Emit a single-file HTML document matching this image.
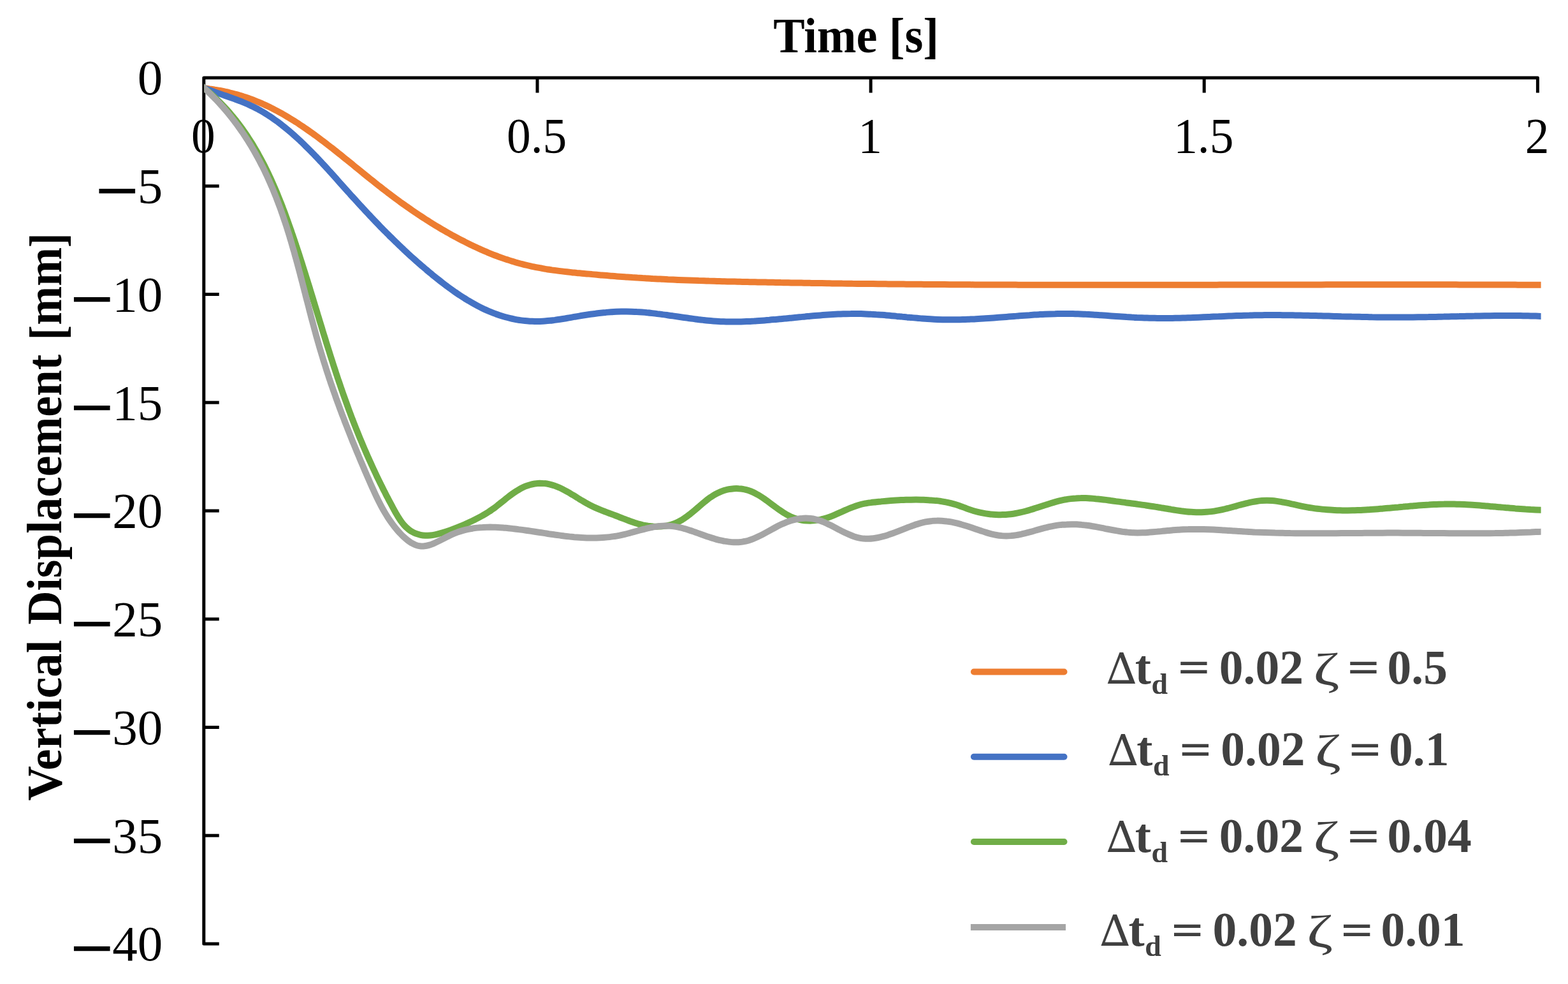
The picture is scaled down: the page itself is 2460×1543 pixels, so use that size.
<!DOCTYPE html>
<html lang="en"><head><meta charset="utf-8"><title>Vertical Displacement vs Time</title>
<style>html,body{margin:0;padding:0;background:#fff}body{width:2460px;height:1543px;overflow:hidden}svg{display:block}text{font-family:'Liberation Serif', 'DejaVu Serif', serif}</style>
</head><body>
<svg xmlns="http://www.w3.org/2000/svg" width="2460" height="1543" viewBox="0 0 2460 1543">
<rect width="2460" height="1543" fill="#fff"/>
<g fill="none" stroke="#000" stroke-width="5.0" stroke-linejoin="round" stroke-linecap="butt">
<path d="M343.7 1480.0 H319.8 V122.0 H2412.4 V145.5"/>
<path d="M843.0 122.0 v23.5"/>
<path d="M1366.1 122.0 v23.5"/>
<path d="M1889.2 122.0 v23.5"/>
<path d="M319.8 291.8 h23.9"/>
<path d="M319.8 461.5 h23.9"/>
<path d="M319.8 631.2 h23.9"/>
<path d="M319.8 801.0 h23.9"/>
<path d="M319.8 970.8 h23.9"/>
<path d="M319.8 1140.5 h23.9"/>
<path d="M319.8 1310.2 h23.9"/>
</g>
<g font-size="79.0" fill="#000">
<text x="318.9" y="239.2" text-anchor="middle" textLength="37.7" lengthAdjust="spacingAndGlyphs">0</text>
<text x="842.1" y="239.2" text-anchor="middle" textLength="94.3" lengthAdjust="spacingAndGlyphs">0.5</text>
<text x="1365.2" y="239.2" text-anchor="middle" textLength="37.7" lengthAdjust="spacingAndGlyphs">1</text>
<text x="1888.3" y="239.2" text-anchor="middle" textLength="94.3" lengthAdjust="spacingAndGlyphs">1.5</text>
<text x="2411.5" y="239.2" text-anchor="middle" textLength="37.7" lengthAdjust="spacingAndGlyphs">2</text>
<text x="215.7" y="148.3">0</text>
<text><tspan x="146.0" y="328.1" font-family="'DejaVu Serif', 'DejaVu Sans', serif" font-size="90.5">−</tspan><tspan x="215.7" y="318.1">5</tspan></text>
<text><tspan x="106.5" y="497.9" font-family="'DejaVu Serif', 'DejaVu Sans', serif" font-size="90.5">−</tspan><tspan x="176.2" y="487.8">10</tspan></text>
<text><tspan x="106.5" y="667.6" font-family="'DejaVu Serif', 'DejaVu Sans', serif" font-size="90.5">−</tspan><tspan x="176.2" y="657.5">15</tspan></text>
<text><tspan x="106.5" y="837.4" font-family="'DejaVu Serif', 'DejaVu Sans', serif" font-size="90.5">−</tspan><tspan x="176.2" y="827.3">20</tspan></text>
<text><tspan x="106.5" y="1007.1" font-family="'DejaVu Serif', 'DejaVu Sans', serif" font-size="90.5">−</tspan><tspan x="176.2" y="997.0">25</tspan></text>
<text><tspan x="106.5" y="1176.9" font-family="'DejaVu Serif', 'DejaVu Sans', serif" font-size="90.5">−</tspan><tspan x="176.2" y="1166.8">30</tspan></text>
<text><tspan x="106.5" y="1346.7" font-family="'DejaVu Serif', 'DejaVu Sans', serif" font-size="90.5">−</tspan><tspan x="176.2" y="1336.5">35</tspan></text>
<text><tspan x="106.5" y="1516.4" font-family="'DejaVu Serif', 'DejaVu Sans', serif" font-size="90.5">−</tspan><tspan x="176.2" y="1506.3">40</tspan></text>
</g>
<text x="1213.2" y="82.0" font-size="78.0" font-weight="bold" textLength="259.7" lengthAdjust="spacingAndGlyphs">Time [s]</text>
<text transform="translate(96.3 1254.6) rotate(-90)" font-size="78.0" font-weight="bold"><tspan x="-0.8" textLength="252.0" lengthAdjust="spacingAndGlyphs" y="0">Vertical</tspan><tspan> </tspan><tspan x="275.1" textLength="423.6" lengthAdjust="spacingAndGlyphs" y="0">Displacement</tspan><tspan> </tspan><tspan x="721.1" textLength="23.6" lengthAdjust="spacingAndGlyphs" y="3.5">[</tspan><tspan x="744.9" textLength="121.8" lengthAdjust="spacingAndGlyphs" y="0">mm</tspan><tspan x="866.4" textLength="22.9" lengthAdjust="spacingAndGlyphs" y="3.5">]</tspan></text>
<clipPath id="plot"><rect x="320.3" y="100" width="2097.3" height="1400"/></clipPath>
<g fill="none" stroke-width="10.0" stroke-linejoin="round" stroke-linecap="butt" clip-path="url(#plot)">
<path stroke="#ED7D31" d="M312.5 137.3C313.8 137.5 317.8 138.0 320.5 138.3C323.2 138.6 326.1 139.0 328.8 139.4C331.6 139.7 334.3 140.1 337.0 140.6C339.8 141.0 342.4 141.5 345.1 142.0C347.8 142.5 350.5 143.1 353.1 143.7C355.8 144.2 358.4 144.8 361.0 145.5C363.6 146.1 366.2 146.8 368.8 147.5C371.3 148.2 373.9 148.9 376.4 149.7C379.0 150.4 381.5 151.2 384.0 152.1C386.5 152.9 389.0 153.8 391.5 154.6C394.0 155.5 396.4 156.5 398.9 157.4C401.3 158.4 403.7 159.3 406.2 160.4C408.6 161.4 411.0 162.4 413.4 163.5C415.8 164.6 418.1 165.7 420.5 166.8C422.9 167.9 425.2 169.1 427.6 170.3C429.9 171.5 432.2 172.7 434.5 173.9C436.9 175.2 439.2 176.4 441.5 177.7C443.7 179.0 446.0 180.3 448.3 181.6C450.6 182.9 452.8 184.3 455.1 185.7C457.3 187.0 459.6 188.4 461.8 189.8C464.0 191.2 466.2 192.7 468.5 194.1C470.7 195.6 472.9 197.0 475.1 198.5C477.2 200.0 479.4 201.5 481.6 203.0C483.8 204.5 486.0 206.1 488.1 207.6C490.3 209.1 492.4 210.7 494.6 212.3C496.7 213.8 498.9 215.4 501.0 217.0C503.1 218.6 505.3 220.2 507.4 221.8C509.5 223.4 511.6 225.0 513.7 226.7C515.9 228.3 518.0 229.9 520.1 231.6C522.2 233.2 524.3 234.9 526.4 236.5C528.5 238.2 530.6 239.9 532.7 241.6C534.8 243.2 536.9 244.9 538.9 246.6C541.0 248.3 543.1 250.0 545.2 251.6C547.3 253.3 549.4 255.0 551.5 256.7C553.6 258.4 555.6 260.1 557.7 261.8C559.8 263.5 561.9 265.2 564.0 266.9C566.1 268.6 568.1 270.3 570.2 272.0C572.3 273.7 574.4 275.3 576.5 277.0C578.6 278.7 580.7 280.4 582.8 282.1C584.9 283.7 587.0 285.4 589.1 287.1C591.2 288.8 593.3 290.4 595.4 292.1C597.5 293.7 599.6 295.4 601.7 297.0C603.9 298.6 606.0 300.3 608.1 301.9C610.2 303.5 612.4 305.1 614.5 306.7C616.7 308.3 618.8 309.9 620.9 311.5C623.1 313.1 625.3 314.7 627.4 316.3C629.6 317.8 631.7 319.4 633.9 320.9C636.1 322.5 638.3 324.0 640.5 325.5C642.6 327.1 644.8 328.6 647.0 330.1C649.2 331.6 651.4 333.1 653.7 334.6C655.9 336.1 658.1 337.6 660.3 339.0C662.5 340.5 664.8 342.0 667.0 343.4C669.3 344.8 671.5 346.3 673.8 347.7C676.0 349.1 678.3 350.5 680.6 351.9C682.8 353.3 685.1 354.7 687.4 356.1C689.7 357.5 692.0 358.8 694.3 360.2C696.6 361.5 698.9 362.8 701.2 364.2C703.6 365.5 705.9 366.8 708.2 368.1C710.6 369.4 712.9 370.7 715.3 371.9C717.6 373.2 720.0 374.5 722.4 375.7C724.8 376.9 727.2 378.2 729.6 379.4C732.0 380.6 734.4 381.8 736.8 383.0C739.2 384.2 741.6 385.3 744.1 386.5C746.5 387.6 749.0 388.7 751.4 389.9C753.9 391.0 756.3 392.1 758.8 393.1C761.3 394.2 763.7 395.2 766.2 396.3C768.7 397.3 771.2 398.3 773.7 399.3C776.2 400.3 778.7 401.2 781.2 402.2C783.7 403.1 786.2 404.0 788.8 404.9C791.3 405.8 793.8 406.6 796.4 407.4C798.9 408.3 801.4 409.1 804.0 409.8C806.5 410.6 809.1 411.3 811.6 412.1C814.2 412.8 816.7 413.5 819.3 414.1C821.9 414.8 824.4 415.4 827.0 416.0C829.6 416.6 832.2 417.2 834.7 417.8C837.3 418.3 839.9 418.9 842.5 419.4C845.1 419.9 847.7 420.4 850.3 420.8C852.8 421.3 855.4 421.7 858.0 422.2C860.6 422.6 863.2 423.0 865.8 423.4C868.4 423.7 871.0 424.1 873.6 424.4C876.2 424.8 878.8 425.1 881.5 425.4C884.1 425.8 886.7 426.1 889.3 426.3C891.9 426.6 894.5 426.9 897.1 427.2C899.8 427.5 902.4 427.7 905.0 428.0C907.6 428.2 910.2 428.5 912.9 428.7C915.5 429.0 918.1 429.2 920.7 429.4C923.4 429.7 926.0 429.9 928.6 430.1C931.3 430.4 933.9 430.6 936.5 430.8C939.2 431.0 941.8 431.3 944.4 431.5C947.1 431.7 949.7 431.9 952.4 432.1C955.0 432.3 957.7 432.6 960.3 432.8C962.9 433.0 965.6 433.2 968.2 433.4C970.9 433.6 973.5 433.8 976.2 434.0C978.8 434.2 981.5 434.3 984.1 434.5C986.8 434.7 989.5 434.9 992.1 435.1C994.8 435.2 997.4 435.4 1000.1 435.6C1002.7 435.7 1005.4 435.9 1008.1 436.1C1010.7 436.2 1013.4 436.4 1016.1 436.5C1018.7 436.7 1021.4 436.8 1024.0 437.0C1026.7 437.1 1029.4 437.3 1032.0 437.4C1034.7 437.5 1037.4 437.7 1040.1 437.8C1042.7 437.9 1045.4 438.0 1048.1 438.2C1050.7 438.3 1053.4 438.4 1056.1 438.5C1058.8 438.6 1061.4 438.8 1064.1 438.9C1066.8 439.0 1069.5 439.1 1072.1 439.2C1074.8 439.3 1077.5 439.4 1080.2 439.5C1082.8 439.6 1085.5 439.7 1088.2 439.8C1090.9 439.9 1093.6 440.0 1096.2 440.1C1098.9 440.1 1101.6 440.2 1104.3 440.3C1107.0 440.4 1109.6 440.5 1112.3 440.6C1115.0 440.6 1117.7 440.7 1120.4 440.8C1123.0 440.9 1125.7 441.0 1128.4 441.0C1131.1 441.1 1133.8 441.2 1136.5 441.2C1139.1 441.3 1141.8 441.4 1144.5 441.4C1147.2 441.5 1149.9 441.6 1152.6 441.6C1155.2 441.7 1157.9 441.8 1160.6 441.8C1163.3 441.9 1166.0 441.9 1168.7 442.0C1171.3 442.1 1174.0 442.1 1176.7 442.2C1179.4 442.2 1182.1 442.3 1184.8 442.3C1187.4 442.4 1190.1 442.4 1192.8 442.5C1195.5 442.5 1198.2 442.6 1200.9 442.6C1203.5 442.7 1206.2 442.7 1208.9 442.8C1211.6 442.8 1214.3 442.9 1217.0 442.9C1219.6 443.0 1222.3 443.0 1225.0 443.1C1227.7 443.1 1230.4 443.2 1233.0 443.2C1235.7 443.3 1238.4 443.3 1241.1 443.4C1243.8 443.4 1246.4 443.5 1249.1 443.5C1251.8 443.5 1254.5 443.6 1257.2 443.6C1259.8 443.7 1262.5 443.7 1265.2 443.8C1267.9 443.8 1270.5 443.8 1273.2 443.9C1275.9 443.9 1278.6 444.0 1281.3 444.0C1283.9 444.0 1286.6 444.1 1289.3 444.1C1292.0 444.2 1294.6 444.2 1297.3 444.2C1300.0 444.3 1302.7 444.3 1305.3 444.4C1308.0 444.4 1310.7 444.4 1313.4 444.5C1316.1 444.5 1318.7 444.5 1321.4 444.6C1324.1 444.6 1326.8 444.6 1329.4 444.7C1332.1 444.7 1334.8 444.7 1337.4 444.8C1340.1 444.8 1342.8 444.8 1345.5 444.9C1348.1 444.9 1350.8 444.9 1353.5 445.0C1356.2 445.0 1358.8 445.0 1361.5 445.0C1364.2 445.1 1366.9 445.1 1369.5 445.1C1372.2 445.2 1374.9 445.2 1377.5 445.2C1380.2 445.3 1382.9 445.3 1385.6 445.3C1388.2 445.3 1390.9 445.4 1393.6 445.4C1396.2 445.4 1398.9 445.4 1401.6 445.5C1404.3 445.5 1406.9 445.5 1409.6 445.5C1412.3 445.6 1414.9 445.6 1417.6 445.6C1420.3 445.6 1423.0 445.7 1425.6 445.7C1428.3 445.7 1431.0 445.7 1433.6 445.8C1436.3 445.8 1439.0 445.8 1441.6 445.8C1444.3 445.8 1447.0 445.9 1449.7 445.9C1452.3 445.9 1455.0 445.9 1457.7 445.9C1460.3 446.0 1463.0 446.0 1465.7 446.0C1468.3 446.0 1471.0 446.0 1473.7 446.1C1476.3 446.1 1479.0 446.1 1481.7 446.1C1484.3 446.1 1487.0 446.1 1489.7 446.2C1492.3 446.2 1495.0 446.2 1497.7 446.2C1500.3 446.2 1503.0 446.2 1505.7 446.3C1508.3 446.3 1511.0 446.3 1513.7 446.3C1516.3 446.3 1519.0 446.3 1521.7 446.3C1524.3 446.4 1527.0 446.4 1529.7 446.4C1532.3 446.4 1535.0 446.4 1537.7 446.4C1540.3 446.4 1543.0 446.4 1545.7 446.5C1548.3 446.5 1551.0 446.5 1553.7 446.5C1556.3 446.5 1559.0 446.5 1561.7 446.5C1564.3 446.5 1567.0 446.5 1569.7 446.6C1572.3 446.6 1575.0 446.6 1577.6 446.6C1580.3 446.6 1583.0 446.6 1585.6 446.6C1588.3 446.6 1591.0 446.6 1593.6 446.6C1596.3 446.6 1599.0 446.7 1601.6 446.7C1604.3 446.7 1607.0 446.7 1609.6 446.7C1612.3 446.7 1614.9 446.7 1617.6 446.7C1620.3 446.7 1622.9 446.7 1625.6 446.7C1628.3 446.7 1630.9 446.7 1633.6 446.7C1636.2 446.7 1638.9 446.7 1641.6 446.8C1644.2 446.8 1646.9 446.8 1649.6 446.8C1652.2 446.8 1654.9 446.8 1657.6 446.8C1660.2 446.8 1662.9 446.8 1665.5 446.8C1668.2 446.8 1670.9 446.8 1673.5 446.8C1676.2 446.8 1678.9 446.8 1681.5 446.8C1684.2 446.8 1686.8 446.8 1689.5 446.8C1692.2 446.8 1694.8 446.8 1697.5 446.8C1700.1 446.8 1702.8 446.8 1705.5 446.8C1708.1 446.8 1710.8 446.8 1713.5 446.8C1716.1 446.8 1718.8 446.8 1721.4 446.8C1724.1 446.8 1726.8 446.8 1729.4 446.8C1732.1 446.8 1734.8 446.8 1737.4 446.8C1740.1 446.8 1742.7 446.8 1745.4 446.8C1748.1 446.8 1750.7 446.8 1753.4 446.8C1756.0 446.8 1758.7 446.8 1761.4 446.8C1764.0 446.8 1766.7 446.8 1769.4 446.8C1772.0 446.8 1774.7 446.8 1777.3 446.8C1780.0 446.8 1782.7 446.8 1785.3 446.8C1788.0 446.8 1790.6 446.8 1793.3 446.8C1796.0 446.8 1798.6 446.8 1801.3 446.8C1803.9 446.8 1806.6 446.8 1809.3 446.8C1811.9 446.8 1814.6 446.8 1817.3 446.8C1819.9 446.8 1822.6 446.8 1825.2 446.8C1827.9 446.8 1830.6 446.8 1833.2 446.8C1835.9 446.8 1838.5 446.8 1841.2 446.8C1843.9 446.8 1846.5 446.8 1849.2 446.7C1851.8 446.7 1854.5 446.7 1857.2 446.7C1859.8 446.7 1862.5 446.7 1865.2 446.7C1867.8 446.7 1870.5 446.7 1873.1 446.7C1875.8 446.7 1878.5 446.7 1881.1 446.7C1883.8 446.7 1886.4 446.7 1889.1 446.7C1891.8 446.7 1894.4 446.7 1897.1 446.7C1899.8 446.7 1902.4 446.7 1905.1 446.7C1907.7 446.7 1910.4 446.6 1913.1 446.6C1915.7 446.6 1918.4 446.6 1921.0 446.6C1923.7 446.6 1926.4 446.6 1929.0 446.6C1931.7 446.6 1934.4 446.6 1937.0 446.6C1939.7 446.6 1942.3 446.6 1945.0 446.6C1947.7 446.6 1950.3 446.6 1953.0 446.6C1955.7 446.6 1958.3 446.6 1961.0 446.6C1963.6 446.5 1966.3 446.5 1969.0 446.5C1971.6 446.5 1974.3 446.5 1976.9 446.5C1979.6 446.5 1982.3 446.5 1984.9 446.5C1987.6 446.5 1990.3 446.5 1992.9 446.5C1995.6 446.5 1998.3 446.5 2000.9 446.5C2003.6 446.5 2006.2 446.5 2008.9 446.5C2011.6 446.5 2014.2 446.5 2016.9 446.5C2019.6 446.4 2022.2 446.4 2024.9 446.4C2027.5 446.4 2030.2 446.4 2032.9 446.4C2035.5 446.4 2038.2 446.4 2040.9 446.4C2043.5 446.4 2046.2 446.4 2048.9 446.4C2051.5 446.4 2054.2 446.4 2056.8 446.4C2059.5 446.4 2062.2 446.4 2064.8 446.4C2067.5 446.4 2070.2 446.4 2072.8 446.4C2075.5 446.4 2078.2 446.4 2080.8 446.3C2083.5 446.3 2086.2 446.3 2088.8 446.3C2091.5 446.3 2094.2 446.3 2096.8 446.3C2099.5 446.3 2102.1 446.3 2104.8 446.3C2107.5 446.3 2110.1 446.3 2112.8 446.3C2115.5 446.3 2118.1 446.3 2120.8 446.3C2123.5 446.3 2126.1 446.3 2128.8 446.3C2131.5 446.3 2134.1 446.3 2136.8 446.3C2139.5 446.3 2142.1 446.3 2144.8 446.3C2147.5 446.3 2150.1 446.3 2152.8 446.3C2155.5 446.3 2158.1 446.3 2160.8 446.3C2163.5 446.3 2166.1 446.3 2168.8 446.3C2171.5 446.3 2174.1 446.3 2176.8 446.3C2179.5 446.3 2182.1 446.3 2184.8 446.3C2187.5 446.3 2190.2 446.3 2192.8 446.3C2195.5 446.3 2198.2 446.3 2200.8 446.3C2203.5 446.3 2206.2 446.3 2208.8 446.3C2211.5 446.3 2214.2 446.3 2216.8 446.3C2219.5 446.3 2222.2 446.3 2224.9 446.3C2227.5 446.3 2230.2 446.3 2232.9 446.3C2235.5 446.3 2238.2 446.3 2240.9 446.3C2243.5 446.3 2246.2 446.3 2248.9 446.3C2251.6 446.3 2254.2 446.3 2256.9 446.3C2259.6 446.3 2262.2 446.3 2264.9 446.3C2267.6 446.3 2270.3 446.3 2272.9 446.3C2275.6 446.3 2278.3 446.3 2281.0 446.3C2283.6 446.3 2286.3 446.4 2289.0 446.4C2291.6 446.4 2294.3 446.4 2297.0 446.4C2299.7 446.4 2302.3 446.4 2305.0 446.4C2307.7 446.4 2310.4 446.4 2313.0 446.4C2315.7 446.4 2318.4 446.4 2321.1 446.4C2323.7 446.4 2326.4 446.4 2329.1 446.5C2331.8 446.5 2334.4 446.5 2337.1 446.5C2339.8 446.5 2342.5 446.5 2345.1 446.5C2347.8 446.5 2350.5 446.5 2353.2 446.5C2355.8 446.5 2358.5 446.6 2361.2 446.6C2363.9 446.6 2366.5 446.6 2369.2 446.6C2371.9 446.6 2374.6 446.6 2377.3 446.6C2379.9 446.6 2382.6 446.7 2385.3 446.7C2388.0 446.7 2390.6 446.7 2393.3 446.7C2396.0 446.7 2398.7 446.7 2401.4 446.7C2404.0 446.8 2406.7 446.8 2409.4 446.8C2412.1 446.8 2414.8 446.8 2417.4 446.8C2420.1 446.8 2424.1 446.9 2425.4 446.9"/>
<path stroke="#4472C4" d="M312.5 135.3C313.8 135.8 317.8 137.3 320.5 138.3C323.2 139.3 325.9 140.3 328.6 141.3C331.2 142.3 333.9 143.2 336.5 144.2C339.1 145.1 341.7 146.0 344.3 146.9C346.9 147.8 349.5 148.7 352.0 149.6C354.6 150.4 357.1 151.3 359.6 152.2C362.1 153.1 364.6 154.0 367.1 154.9C369.5 155.8 372.0 156.7 374.4 157.6C376.9 158.6 379.3 159.5 381.7 160.5C384.1 161.5 386.5 162.5 388.9 163.5C391.2 164.6 393.6 165.6 395.9 166.8C398.2 167.9 400.5 169.0 402.8 170.2C405.1 171.5 407.4 172.7 409.7 174.0C411.9 175.3 414.2 176.6 416.4 178.0C418.6 179.4 420.8 180.8 423.0 182.2C425.2 183.7 427.4 185.2 429.5 186.7C431.7 188.2 433.9 189.8 436.0 191.3C438.1 192.9 440.2 194.5 442.3 196.2C444.4 197.8 446.5 199.4 448.5 201.1C450.6 202.8 452.7 204.5 454.7 206.3C456.7 208.0 458.7 209.7 460.7 211.5C462.7 213.3 464.7 215.1 466.7 216.9C468.7 218.7 470.7 220.5 472.6 222.4C474.6 224.2 476.5 226.1 478.4 228.0C480.4 229.9 482.3 231.8 484.2 233.7C486.1 235.6 488.0 237.5 489.9 239.5C491.8 241.4 493.7 243.3 495.5 245.3C497.4 247.3 499.3 249.2 501.1 251.2C503.0 253.2 504.8 255.2 506.7 257.2C508.5 259.1 510.4 261.1 512.2 263.1C514.0 265.1 515.8 267.2 517.7 269.2C519.5 271.2 521.3 273.2 523.1 275.2C524.9 277.2 526.7 279.2 528.5 281.2C530.3 283.3 532.1 285.3 533.9 287.3C535.7 289.3 537.5 291.3 539.3 293.3C541.1 295.3 542.9 297.3 544.7 299.3C546.5 301.3 548.2 303.3 550.0 305.3C551.8 307.3 553.6 309.2 555.4 311.2C557.2 313.2 559.0 315.2 560.8 317.1C562.6 319.1 564.4 321.0 566.2 323.0C568.0 324.9 569.8 326.9 571.6 328.8C573.4 330.8 575.2 332.7 577.0 334.6C578.8 336.5 580.6 338.5 582.4 340.4C584.2 342.3 586.0 344.2 587.8 346.1C589.7 348.0 591.5 349.9 593.3 351.8C595.1 353.7 597.0 355.6 598.8 357.5C600.7 359.4 602.5 361.3 604.4 363.1C606.2 365.0 608.1 366.9 610.0 368.7C611.8 370.6 613.7 372.4 615.6 374.3C617.5 376.2 619.4 378.0 621.3 379.8C623.2 381.7 625.1 383.5 627.0 385.3C628.9 387.2 630.8 389.0 632.8 390.8C634.7 392.6 636.6 394.4 638.6 396.2C640.5 398.1 642.5 399.9 644.5 401.7C646.5 403.4 648.5 405.2 650.5 407.0C652.5 408.8 654.5 410.6 656.5 412.4C658.5 414.1 660.6 415.9 662.6 417.7C664.7 419.4 666.7 421.2 668.8 422.9C670.9 424.7 673.0 426.4 675.1 428.2C677.2 429.9 679.3 431.7 681.4 433.4C683.5 435.1 685.7 436.8 687.9 438.5C690.0 440.2 692.2 441.9 694.4 443.6C696.6 445.3 698.8 447.0 701.0 448.6C703.2 450.3 705.4 451.9 707.7 453.5C709.9 455.1 712.1 456.7 714.4 458.3C716.7 459.8 718.9 461.4 721.2 462.9C723.5 464.4 725.8 465.9 728.1 467.3C730.4 468.8 732.8 470.2 735.1 471.6C737.4 473.0 739.8 474.4 742.1 475.7C744.5 477.0 746.9 478.3 749.3 479.6C751.6 480.8 754.0 482.0 756.4 483.2C758.8 484.4 761.2 485.5 763.7 486.6C766.1 487.7 768.5 488.7 771.0 489.7C773.4 490.7 775.9 491.6 778.3 492.5C780.8 493.4 783.2 494.3 785.7 495.1C788.2 495.9 790.7 496.6 793.2 497.3C795.7 498.0 798.2 498.6 800.7 499.2C803.2 499.8 805.8 500.3 808.3 500.8C810.8 501.3 813.4 501.7 815.9 502.1C818.5 502.5 821.0 502.8 823.6 503.0C826.1 503.3 828.7 503.5 831.3 503.7C833.9 503.8 836.4 503.9 839.0 504.0C841.6 504.0 844.2 504.0 846.8 503.9C849.4 503.8 852.0 503.7 854.6 503.5C857.3 503.3 859.9 503.1 862.5 502.8C865.1 502.6 867.8 502.2 870.4 501.9C873.0 501.5 875.7 501.1 878.3 500.7C880.9 500.3 883.6 499.9 886.3 499.5C888.9 499.0 891.6 498.6 894.2 498.1C896.9 497.6 899.5 497.2 902.2 496.7C904.9 496.3 907.6 495.8 910.2 495.3C912.9 494.9 915.6 494.5 918.3 494.0C920.9 493.6 923.6 493.2 926.3 492.8C929.0 492.4 931.7 492.0 934.4 491.7C937.0 491.3 939.7 491.0 942.4 490.7C945.1 490.4 947.8 490.1 950.5 489.9C953.2 489.6 955.9 489.4 958.6 489.2C961.3 489.1 964.0 488.9 966.7 488.8C969.4 488.7 972.1 488.6 974.8 488.6C977.5 488.6 980.2 488.6 982.8 488.6C985.5 488.6 988.2 488.6 990.9 488.7C993.6 488.8 996.3 488.9 999.0 489.1C1001.7 489.2 1004.4 489.4 1007.1 489.6C1009.8 489.8 1012.5 490.0 1015.1 490.3C1017.8 490.5 1020.5 490.8 1023.2 491.1C1025.9 491.4 1028.6 491.7 1031.2 492.1C1033.9 492.4 1036.6 492.7 1039.3 493.1C1042.0 493.4 1044.6 493.8 1047.3 494.2C1050.0 494.6 1052.7 495.0 1055.3 495.3C1058.0 495.7 1060.7 496.1 1063.4 496.5C1066.0 496.9 1068.7 497.3 1071.4 497.7C1074.0 498.1 1076.7 498.4 1079.4 498.8C1082.1 499.2 1084.7 499.6 1087.4 499.9C1090.1 500.3 1092.7 500.6 1095.4 501.0C1098.1 501.3 1100.7 501.6 1103.4 501.9C1106.1 502.2 1108.7 502.5 1111.4 502.7C1114.1 503.0 1116.7 503.2 1119.4 503.4C1122.0 503.6 1124.7 503.8 1127.4 503.9C1130.0 504.1 1132.7 504.2 1135.3 504.3C1138.0 504.4 1140.7 504.4 1143.3 504.5C1146.0 504.5 1148.6 504.5 1151.3 504.5C1154.0 504.5 1156.6 504.5 1159.3 504.4C1161.9 504.4 1164.6 504.3 1167.3 504.2C1169.9 504.1 1172.6 504.0 1175.2 503.9C1177.9 503.8 1180.6 503.6 1183.2 503.5C1185.9 503.3 1188.5 503.2 1191.2 503.0C1193.8 502.8 1196.5 502.6 1199.2 502.4C1201.8 502.2 1204.5 502.0 1207.1 501.8C1209.8 501.5 1212.4 501.3 1215.1 501.1C1217.8 500.8 1220.4 500.6 1223.1 500.3C1225.7 500.1 1228.4 499.8 1231.1 499.6C1233.7 499.3 1236.4 499.1 1239.0 498.8C1241.7 498.5 1244.3 498.3 1247.0 498.0C1249.7 497.8 1252.3 497.5 1255.0 497.2C1257.6 497.0 1260.3 496.7 1263.0 496.5C1265.6 496.2 1268.3 496.0 1270.9 495.7C1273.6 495.5 1276.3 495.3 1278.9 495.0C1281.6 494.8 1284.2 494.6 1286.9 494.4C1289.6 494.2 1292.2 494.0 1294.9 493.8C1297.6 493.6 1300.2 493.4 1302.9 493.2C1305.5 493.1 1308.2 492.9 1310.9 492.8C1313.5 492.7 1316.2 492.5 1318.9 492.4C1321.5 492.3 1324.2 492.3 1326.8 492.2C1329.5 492.1 1332.2 492.1 1334.8 492.1C1337.5 492.0 1340.2 492.0 1342.8 492.0C1345.5 492.0 1348.1 492.1 1350.8 492.1C1353.5 492.2 1356.1 492.3 1358.8 492.4C1361.5 492.5 1364.1 492.6 1366.8 492.8C1369.5 492.9 1372.1 493.1 1374.8 493.3C1377.5 493.4 1380.1 493.6 1382.8 493.8C1385.4 494.0 1388.1 494.2 1390.8 494.5C1393.4 494.7 1396.1 494.9 1398.8 495.2C1401.4 495.4 1404.1 495.6 1406.8 495.9C1409.4 496.1 1412.1 496.4 1414.8 496.6C1417.4 496.9 1420.1 497.1 1422.8 497.4C1425.4 497.6 1428.1 497.9 1430.8 498.1C1433.4 498.4 1436.1 498.6 1438.8 498.8C1441.4 499.0 1444.1 499.3 1446.8 499.5C1449.4 499.7 1452.1 499.9 1454.8 500.0C1457.4 500.2 1460.1 500.4 1462.8 500.5C1465.4 500.7 1468.1 500.8 1470.8 500.9C1473.4 501.0 1476.1 501.1 1478.8 501.2C1481.5 501.2 1484.1 501.3 1486.8 501.3C1489.5 501.3 1492.1 501.3 1494.8 501.3C1497.5 501.3 1500.1 501.3 1502.8 501.2C1505.5 501.2 1508.1 501.1 1510.8 501.0C1513.5 501.0 1516.1 500.9 1518.8 500.8C1521.5 500.7 1524.2 500.5 1526.8 500.4C1529.5 500.3 1532.2 500.1 1534.8 500.0C1537.5 499.9 1540.2 499.7 1542.8 499.5C1545.5 499.4 1548.2 499.2 1550.9 499.0C1553.5 498.8 1556.2 498.6 1558.9 498.4C1561.5 498.2 1564.2 498.0 1566.9 497.8C1569.6 497.6 1572.2 497.4 1574.9 497.2C1577.6 497.0 1580.2 496.8 1582.9 496.6C1585.6 496.4 1588.3 496.2 1590.9 496.0C1593.6 495.8 1596.3 495.5 1598.9 495.3C1601.6 495.1 1604.3 494.9 1607.0 494.7C1609.6 494.5 1612.3 494.3 1615.0 494.2C1617.6 494.0 1620.3 493.8 1623.0 493.6C1625.7 493.5 1628.3 493.3 1631.0 493.1C1633.7 493.0 1636.4 492.9 1639.0 492.7C1641.7 492.6 1644.4 492.5 1647.0 492.4C1649.7 492.3 1652.4 492.2 1655.1 492.2C1657.7 492.1 1660.4 492.1 1663.1 492.0C1665.8 492.0 1668.4 492.0 1671.1 492.0C1673.8 492.0 1676.4 492.0 1679.1 492.0C1681.8 492.1 1684.5 492.1 1687.1 492.2C1689.8 492.3 1692.5 492.3 1695.2 492.4C1697.8 492.5 1700.5 492.6 1703.2 492.8C1705.9 492.9 1708.5 493.0 1711.2 493.2C1713.9 493.4 1716.6 493.5 1719.2 493.7C1721.9 493.9 1724.6 494.0 1727.2 494.2C1729.9 494.4 1732.6 494.6 1735.3 494.8C1737.9 495.0 1740.6 495.2 1743.3 495.4C1746.0 495.6 1748.6 495.8 1751.3 496.0C1754.0 496.2 1756.7 496.4 1759.3 496.5C1762.0 496.7 1764.7 496.9 1767.4 497.1C1770.0 497.2 1772.7 497.4 1775.4 497.6C1778.1 497.7 1780.7 497.8 1783.4 498.0C1786.1 498.1 1788.8 498.2 1791.4 498.3C1794.1 498.4 1796.8 498.5 1799.5 498.6C1802.1 498.7 1804.8 498.7 1807.5 498.8C1810.2 498.8 1812.8 498.9 1815.5 498.9C1818.2 498.9 1820.9 499.0 1823.6 499.0C1826.2 499.0 1828.9 499.0 1831.6 498.9C1834.3 498.9 1836.9 498.9 1839.6 498.9C1842.3 498.8 1845.0 498.8 1847.6 498.7C1850.3 498.7 1853.0 498.6 1855.7 498.5C1858.3 498.4 1861.0 498.4 1863.7 498.3C1866.4 498.2 1869.0 498.1 1871.7 498.0C1874.4 497.9 1877.1 497.8 1879.7 497.7C1882.4 497.6 1885.1 497.5 1887.8 497.3C1890.4 497.2 1893.1 497.1 1895.8 497.0C1898.5 496.9 1901.2 496.7 1903.8 496.6C1906.5 496.5 1909.2 496.4 1911.9 496.3C1914.5 496.1 1917.2 496.0 1919.9 495.9C1922.6 495.8 1925.2 495.7 1927.9 495.6C1930.6 495.5 1933.3 495.3 1935.9 495.2C1938.6 495.1 1941.3 495.0 1944.0 494.9C1946.7 494.9 1949.3 494.8 1952.0 494.7C1954.7 494.6 1957.4 494.5 1960.0 494.5C1962.7 494.4 1965.4 494.4 1968.1 494.3C1970.7 494.3 1973.4 494.2 1976.1 494.2C1978.8 494.2 1981.4 494.1 1984.1 494.1C1986.8 494.1 1989.5 494.1 1992.2 494.1C1994.8 494.1 1997.5 494.1 2000.2 494.1C2002.9 494.1 2005.5 494.1 2008.2 494.1C2010.9 494.1 2013.6 494.2 2016.2 494.2C2018.9 494.2 2021.6 494.2 2024.3 494.3C2026.9 494.3 2029.6 494.4 2032.3 494.4C2035.0 494.4 2037.7 494.5 2040.3 494.5C2043.0 494.6 2045.7 494.7 2048.4 494.7C2051.0 494.8 2053.7 494.8 2056.4 494.9C2059.1 495.0 2061.7 495.0 2064.4 495.1C2067.1 495.2 2069.8 495.2 2072.4 495.3C2075.1 495.4 2077.8 495.4 2080.5 495.5C2083.2 495.6 2085.8 495.6 2088.5 495.7C2091.2 495.8 2093.9 495.9 2096.5 495.9C2099.2 496.0 2101.9 496.1 2104.6 496.2C2107.2 496.2 2109.9 496.3 2112.6 496.4C2115.3 496.4 2117.9 496.5 2120.6 496.6C2123.3 496.6 2126.0 496.7 2128.6 496.8C2131.3 496.8 2134.0 496.9 2136.7 496.9C2139.4 497.0 2142.0 497.1 2144.7 497.1C2147.4 497.2 2150.1 497.2 2152.7 497.3C2155.4 497.3 2158.1 497.3 2160.8 497.4C2163.4 497.4 2166.1 497.4 2168.8 497.5C2171.5 497.5 2174.1 497.5 2176.8 497.5C2179.5 497.6 2182.2 497.6 2184.8 497.6C2187.5 497.6 2190.2 497.6 2192.9 497.6C2195.5 497.6 2198.2 497.6 2200.9 497.6C2203.6 497.5 2206.2 497.5 2208.9 497.5C2211.6 497.5 2214.3 497.5 2216.9 497.4C2219.6 497.4 2222.3 497.4 2225.0 497.3C2227.6 497.3 2230.3 497.2 2233.0 497.2C2235.7 497.2 2238.3 497.1 2241.0 497.1C2243.7 497.0 2246.4 497.0 2249.0 496.9C2251.7 496.9 2254.4 496.8 2257.1 496.7C2259.7 496.7 2262.4 496.6 2265.1 496.6C2267.8 496.5 2270.4 496.5 2273.1 496.4C2275.8 496.3 2278.5 496.3 2281.1 496.2C2283.8 496.2 2286.5 496.1 2289.2 496.1C2291.8 496.0 2294.5 495.9 2297.2 495.9C2299.9 495.8 2302.5 495.8 2305.2 495.7C2307.9 495.7 2310.5 495.6 2313.2 495.6C2315.9 495.5 2318.6 495.5 2321.2 495.4C2323.9 495.4 2326.6 495.4 2329.3 495.3C2331.9 495.3 2334.6 495.2 2337.3 495.2C2340.0 495.2 2342.6 495.2 2345.3 495.1C2348.0 495.1 2350.6 495.1 2353.3 495.1C2356.0 495.1 2358.7 495.0 2361.3 495.0C2364.0 495.0 2366.7 495.0 2369.4 495.0C2372.0 495.0 2374.7 495.1 2377.4 495.1C2380.0 495.1 2382.7 495.1 2385.4 495.1C2388.1 495.2 2390.7 495.2 2393.4 495.3C2396.1 495.3 2398.7 495.4 2401.4 495.4C2404.1 495.5 2406.8 495.5 2409.4 495.6C2412.1 495.7 2414.8 495.8 2417.4 495.9C2420.1 495.9 2424.1 496.1 2425.4 496.1"/>
<path stroke="#70AD47" d="M312.5 131.6C313.8 132.7 318.1 136.3 320.5 138.3C322.9 140.3 324.8 141.8 326.9 143.6C328.9 145.4 331.0 147.2 333.0 149.0C335.0 150.8 337.0 152.7 339.0 154.6C341.0 156.4 342.9 158.3 344.8 160.2C346.7 162.1 348.6 164.0 350.4 166.0C352.3 167.9 354.1 169.9 355.9 171.9C357.7 173.9 359.4 175.9 361.2 177.9C362.9 179.9 364.6 181.9 366.3 184.0C368.0 186.0 369.6 188.1 371.3 190.2C372.9 192.3 374.5 194.4 376.1 196.5C377.7 198.6 379.2 200.7 380.8 202.9C382.3 205.0 383.8 207.2 385.3 209.4C386.8 211.6 388.3 213.8 389.7 216.0C391.2 218.2 392.6 220.4 394.0 222.6C395.4 224.9 396.8 227.1 398.1 229.4C399.5 231.6 400.8 233.9 402.1 236.2C403.5 238.5 404.8 240.8 406.0 243.1C407.3 245.4 408.6 247.7 409.8 250.0C411.1 252.4 412.3 254.7 413.5 257.1C414.7 259.4 415.9 261.8 417.1 264.2C418.3 266.5 419.4 268.9 420.6 271.3C421.7 273.7 422.8 276.1 423.9 278.5C425.1 280.9 426.2 283.4 427.2 285.8C428.3 288.2 429.4 290.7 430.4 293.1C431.5 295.5 432.5 298.0 433.6 300.4C434.6 302.9 435.6 305.4 436.6 307.8C437.6 310.3 438.6 312.8 439.6 315.3C440.6 317.8 441.6 320.2 442.5 322.7C443.5 325.2 444.4 327.7 445.4 330.2C446.3 332.7 447.3 335.2 448.2 337.8C449.1 340.3 450.0 342.8 450.9 345.3C451.8 347.8 452.7 350.3 453.6 352.9C454.5 355.4 455.4 357.9 456.3 360.5C457.2 363.0 458.0 365.5 458.9 368.0C459.8 370.6 460.6 373.1 461.5 375.7C462.3 378.2 463.2 380.7 464.0 383.3C464.9 385.8 465.7 388.4 466.6 390.9C467.4 393.4 468.2 396.0 469.1 398.5C469.9 401.1 470.7 403.6 471.5 406.2C472.4 408.7 473.2 411.3 474.0 413.8C474.8 416.4 475.6 418.9 476.4 421.5C477.2 424.0 478.0 426.6 478.8 429.1C479.6 431.7 480.4 434.2 481.2 436.8C482.0 439.3 482.8 441.9 483.6 444.4C484.4 447.0 485.2 449.6 486.0 452.1C486.7 454.7 487.5 457.2 488.3 459.8C489.1 462.3 489.9 464.9 490.7 467.4C491.4 470.0 492.2 472.6 493.0 475.1C493.8 477.7 494.5 480.2 495.3 482.8C496.1 485.3 496.9 487.9 497.7 490.5C498.4 493.0 499.2 495.6 500.0 498.1C500.8 500.7 501.5 503.2 502.3 505.8C503.1 508.3 503.9 510.9 504.7 513.4C505.4 516.0 506.2 518.5 507.0 521.1C507.8 523.6 508.6 526.2 509.4 528.7C510.2 531.3 510.9 533.8 511.7 536.4C512.5 538.9 513.3 541.5 514.1 544.0C514.9 546.6 515.7 549.1 516.5 551.6C517.3 554.2 518.1 556.7 518.9 559.3C519.7 561.8 520.5 564.3 521.4 566.9C522.2 569.4 523.0 571.9 523.8 574.5C524.6 577.0 525.5 579.5 526.3 582.1C527.1 584.6 527.9 587.1 528.8 589.6C529.6 592.2 530.5 594.7 531.3 597.2C532.2 599.7 533.0 602.2 533.9 604.7C534.7 607.3 535.6 609.8 536.5 612.3C537.3 614.8 538.2 617.3 539.1 619.8C540.0 622.3 540.9 624.8 541.8 627.3C542.7 629.8 543.6 632.3 544.5 634.8C545.4 637.3 546.3 639.8 547.2 642.3C548.1 644.8 549.1 647.2 550.0 649.7C550.9 652.2 551.9 654.7 552.8 657.2C553.8 659.6 554.7 662.1 555.7 664.6C556.7 667.1 557.6 669.5 558.6 672.0C559.6 674.5 560.6 676.9 561.6 679.4C562.6 681.9 563.6 684.3 564.6 686.8C565.6 689.2 566.6 691.7 567.7 694.1C568.7 696.6 569.7 699.1 570.8 701.5C571.8 704.0 572.9 706.4 574.0 708.8C575.0 711.3 576.1 713.7 577.2 716.2C578.3 718.6 579.4 721.1 580.5 723.5C581.6 725.9 582.7 728.4 583.8 730.8C584.9 733.2 586.0 735.7 587.2 738.1C588.3 740.5 589.5 743.0 590.6 745.4C591.8 747.8 592.9 750.2 594.1 752.7C595.3 755.1 596.5 757.5 597.7 759.9C598.9 762.3 600.1 764.8 601.3 767.2C602.5 769.6 603.8 772.0 605.0 774.4C606.2 776.9 607.5 779.3 608.8 781.7C610.0 784.1 611.3 786.5 612.6 788.9C613.9 791.3 615.2 793.7 616.5 796.2C617.8 798.6 619.1 801.0 620.4 803.4C621.8 805.7 623.1 808.1 624.6 810.4C626.0 812.7 627.4 815.0 629.0 817.1C630.6 819.3 632.2 821.4 633.9 823.3C635.6 825.2 637.4 827.1 639.4 828.7C641.3 830.4 643.4 831.9 645.5 833.3C647.7 834.6 650.1 835.8 652.4 836.7C654.8 837.6 657.2 838.3 659.7 838.8C662.2 839.3 664.7 839.6 667.2 839.7C669.7 839.8 672.3 839.6 674.9 839.4C677.4 839.2 680.0 838.8 682.7 838.3C685.3 837.8 687.9 837.1 690.5 836.4C693.1 835.7 695.8 834.9 698.4 834.1C701.0 833.3 703.7 832.4 706.3 831.4C708.9 830.5 711.5 829.5 714.1 828.5C716.7 827.5 719.2 826.5 721.8 825.4C724.3 824.4 726.9 823.3 729.3 822.2C731.8 821.1 734.3 819.9 736.7 818.8C739.1 817.7 741.5 816.6 743.8 815.4C746.1 814.3 748.4 813.1 750.7 811.9C753.0 810.7 755.2 809.5 757.4 808.2C759.7 807.0 761.9 805.7 764.1 804.3C766.2 802.9 768.4 801.5 770.6 800.0C772.7 798.5 774.9 797.0 777.0 795.4C779.2 793.7 781.3 792.0 783.5 790.3C785.6 788.6 787.8 786.9 790.0 785.1C792.1 783.4 794.3 781.6 796.5 779.9C798.7 778.2 800.9 776.5 803.1 774.9C805.3 773.3 807.6 771.7 809.9 770.2C812.2 768.8 814.5 767.4 816.8 766.1C819.2 764.8 821.5 763.7 824.0 762.7C826.4 761.7 828.9 760.9 831.4 760.2C833.8 759.5 836.4 758.9 838.9 758.5C841.5 758.2 844.0 757.9 846.6 757.8C849.1 757.8 851.7 757.8 854.2 758.1C856.8 758.3 859.3 758.7 861.9 759.3C864.4 759.9 866.9 760.6 869.4 761.4C871.9 762.3 874.3 763.3 876.8 764.3C879.2 765.4 881.7 766.6 884.1 767.9C886.5 769.1 889.0 770.5 891.4 771.8C893.8 773.2 896.2 774.7 898.5 776.1C900.9 777.5 903.3 779.0 905.7 780.5C908.1 781.9 910.4 783.4 912.8 784.8C915.2 786.2 917.5 787.6 919.9 789.0C922.3 790.3 924.6 791.6 927.0 792.7C929.4 793.9 931.7 795.0 934.1 796.1C936.5 797.2 938.8 798.2 941.2 799.2C943.6 800.2 946.0 801.1 948.4 802.0C950.8 802.9 953.2 803.8 955.6 804.7C958.0 805.6 960.4 806.5 962.9 807.4C965.3 808.3 967.8 809.2 970.2 810.2C972.7 811.1 975.2 812.1 977.7 813.1C980.2 814.0 982.7 815.1 985.3 816.0C987.8 817.0 990.4 817.9 992.9 818.8C995.5 819.7 998.1 820.5 1000.8 821.3C1003.4 822.0 1006.1 822.7 1008.7 823.3C1011.4 823.8 1014.1 824.3 1016.8 824.7C1019.4 825.0 1022.1 825.3 1024.8 825.5C1027.5 825.6 1030.2 825.7 1032.8 825.6C1035.5 825.6 1038.1 825.4 1040.7 825.1C1043.4 824.8 1045.9 824.4 1048.5 823.8C1051.0 823.2 1053.5 822.6 1056.0 821.7C1058.4 820.9 1060.9 819.9 1063.2 818.8C1065.6 817.7 1067.8 816.4 1070.1 815.1C1072.4 813.7 1074.6 812.2 1076.7 810.6C1078.9 809.1 1081.0 807.4 1083.2 805.7C1085.3 804.0 1087.4 802.3 1089.5 800.5C1091.6 798.7 1093.7 796.9 1095.8 795.1C1097.8 793.3 1099.9 791.5 1102.0 789.7C1104.1 787.9 1106.3 786.2 1108.4 784.5C1110.6 782.9 1112.7 781.2 1114.9 779.7C1117.2 778.2 1119.4 776.7 1121.7 775.4C1124.0 774.1 1126.4 772.9 1128.8 771.9C1131.2 770.8 1133.6 769.9 1136.1 769.1C1138.6 768.3 1141.1 767.7 1143.7 767.2C1146.2 766.7 1148.8 766.4 1151.3 766.2C1153.9 766.0 1156.5 766.0 1159.0 766.2C1161.6 766.3 1164.1 766.6 1166.7 767.1C1169.2 767.5 1171.7 768.2 1174.2 769.0C1176.7 769.8 1179.1 770.8 1181.5 771.9C1184.0 773.0 1186.3 774.3 1188.7 775.7C1191.1 777.0 1193.4 778.5 1195.8 780.0C1198.1 781.6 1200.4 783.2 1202.7 784.8C1205.0 786.5 1207.3 788.2 1209.6 789.9C1211.9 791.6 1214.1 793.3 1216.4 795.0C1218.7 796.6 1221.0 798.3 1223.3 799.9C1225.6 801.5 1227.8 803.0 1230.1 804.4C1232.4 805.9 1234.7 807.2 1237.1 808.4C1239.4 809.6 1241.7 810.7 1244.1 811.7C1246.5 812.6 1248.8 813.4 1251.2 814.1C1253.6 814.7 1256.0 815.3 1258.5 815.7C1260.9 816.1 1263.3 816.3 1265.8 816.5C1268.3 816.6 1270.7 816.7 1273.2 816.6C1275.7 816.5 1278.2 816.2 1280.7 815.9C1283.2 815.6 1285.7 815.1 1288.3 814.5C1290.8 814.0 1293.3 813.3 1295.9 812.5C1298.4 811.7 1301.0 810.8 1303.6 809.8C1306.1 808.8 1308.7 807.7 1311.3 806.6C1313.9 805.5 1316.5 804.3 1319.1 803.2C1321.7 802.0 1324.3 800.8 1326.9 799.7C1329.5 798.5 1332.1 797.4 1334.7 796.4C1337.4 795.3 1340.0 794.3 1342.6 793.4C1345.2 792.5 1347.9 791.7 1350.5 791.0C1353.1 790.3 1355.8 789.8 1358.4 789.3C1361.0 788.8 1363.7 788.4 1366.3 788.1C1368.9 787.7 1371.6 787.5 1374.2 787.2C1376.8 786.9 1379.4 786.6 1382.1 786.4C1384.7 786.1 1387.3 785.9 1389.9 785.7C1392.6 785.5 1395.2 785.3 1397.8 785.1C1400.4 784.9 1403.1 784.7 1405.7 784.5C1408.3 784.4 1410.9 784.3 1413.5 784.1C1416.1 784.0 1418.8 783.9 1421.4 783.8C1424.0 783.8 1426.6 783.7 1429.2 783.7C1431.8 783.6 1434.4 783.6 1437.0 783.6C1439.7 783.6 1442.3 783.6 1444.9 783.7C1447.5 783.8 1450.1 783.8 1452.7 783.9C1455.3 784.1 1457.9 784.2 1460.5 784.4C1463.1 784.6 1465.7 784.8 1468.3 785.1C1470.9 785.3 1473.5 785.6 1476.1 786.0C1478.7 786.4 1481.4 786.8 1484.0 787.4C1486.6 787.9 1489.2 788.4 1491.8 789.1C1494.4 789.8 1497.0 790.5 1499.6 791.3C1502.2 792.1 1504.8 793.0 1507.4 794.0C1510.0 794.9 1512.6 795.9 1515.2 796.8C1517.8 797.8 1520.4 798.7 1523.0 799.6C1525.6 800.5 1528.2 801.3 1530.8 802.0C1533.4 802.7 1536.1 803.4 1538.7 803.9C1541.3 804.5 1543.9 805.0 1546.5 805.4C1549.1 805.8 1551.7 806.2 1554.3 806.4C1556.9 806.7 1559.5 806.9 1562.1 807.0C1564.7 807.1 1567.4 807.2 1570.0 807.2C1572.6 807.1 1575.2 807.1 1577.8 806.9C1580.4 806.7 1583.0 806.5 1585.6 806.2C1588.2 805.9 1590.9 805.5 1593.5 805.0C1596.1 804.6 1598.7 804.0 1601.3 803.4C1603.9 802.9 1606.5 802.2 1609.2 801.5C1611.8 800.8 1614.4 800.0 1617.0 799.2C1619.6 798.5 1622.2 797.6 1624.8 796.8C1627.5 796.0 1630.1 795.1 1632.7 794.2C1635.3 793.4 1637.9 792.5 1640.5 791.7C1643.2 790.8 1645.8 790.0 1648.4 789.2C1651.0 788.4 1653.6 787.6 1656.3 786.9C1658.9 786.2 1661.5 785.5 1664.1 784.9C1666.7 784.3 1669.3 783.7 1672.0 783.3C1674.6 782.8 1677.2 782.4 1679.8 782.1C1682.4 781.8 1685.1 781.5 1687.7 781.4C1690.3 781.2 1692.9 781.1 1695.6 781.1C1698.2 781.0 1700.8 781.1 1703.4 781.1C1706.0 781.2 1708.7 781.4 1711.3 781.5C1713.9 781.7 1716.5 781.9 1719.2 782.2C1721.8 782.4 1724.4 782.7 1727.0 783.0C1729.6 783.3 1732.3 783.6 1734.9 783.9C1737.5 784.3 1740.1 784.6 1742.8 785.0C1745.4 785.3 1748.0 785.7 1750.6 786.1C1753.3 786.4 1755.9 786.8 1758.5 787.1C1761.1 787.5 1763.8 787.8 1766.4 788.2C1769.0 788.5 1771.7 788.9 1774.3 789.2C1776.9 789.6 1779.5 789.9 1782.2 790.3C1784.8 790.7 1787.4 791.0 1790.0 791.4C1792.7 791.8 1795.3 792.1 1797.9 792.5C1800.6 792.9 1803.2 793.3 1805.8 793.7C1808.4 794.1 1811.1 794.5 1813.7 794.9C1816.3 795.3 1819.0 795.7 1821.6 796.2C1824.2 796.6 1826.8 797.1 1829.5 797.5C1832.1 798.0 1834.7 798.4 1837.4 798.9C1840.0 799.3 1842.6 799.7 1845.2 800.1C1847.9 800.5 1850.5 800.9 1853.1 801.3C1855.8 801.6 1858.4 801.9 1861.0 802.2C1863.7 802.5 1866.3 802.7 1868.9 802.8C1871.6 803.0 1874.2 803.1 1876.8 803.2C1879.5 803.2 1882.1 803.2 1884.7 803.2C1887.3 803.1 1890.0 803.0 1892.6 802.8C1895.2 802.6 1897.9 802.4 1900.5 802.1C1903.1 801.8 1905.8 801.4 1908.4 800.9C1911.0 800.5 1913.7 800.0 1916.3 799.4C1918.9 798.8 1921.6 798.2 1924.2 797.5C1926.9 796.9 1929.5 796.2 1932.1 795.5C1934.8 794.8 1937.4 794.0 1940.0 793.3C1942.7 792.6 1945.3 791.8 1947.9 791.1C1950.6 790.5 1953.2 789.8 1955.8 789.1C1958.5 788.5 1961.1 787.9 1963.7 787.4C1966.4 786.9 1969.0 786.4 1971.7 786.0C1974.3 785.6 1976.9 785.3 1979.6 785.1C1982.2 784.9 1984.8 784.8 1987.5 784.8C1990.1 784.8 1992.8 784.9 1995.4 785.1C1998.0 785.3 2000.7 785.6 2003.3 785.9C2006.0 786.3 2008.6 786.7 2011.2 787.2C2013.9 787.6 2016.5 788.1 2019.2 788.7C2021.8 789.2 2024.4 789.8 2027.1 790.4C2029.7 790.9 2032.4 791.5 2035.0 792.1C2037.6 792.7 2040.3 793.3 2042.9 793.8C2045.6 794.3 2048.2 794.8 2050.8 795.3C2053.5 795.8 2056.1 796.2 2058.8 796.6C2061.4 797.0 2064.1 797.4 2066.7 797.7C2069.3 798.0 2072.0 798.3 2074.6 798.6C2077.3 798.9 2079.9 799.1 2082.6 799.3C2085.2 799.5 2087.9 799.7 2090.5 799.8C2093.1 800.0 2095.8 800.1 2098.4 800.2C2101.1 800.3 2103.7 800.3 2106.4 800.4C2109.0 800.4 2111.7 800.4 2114.3 800.4C2117.0 800.4 2119.6 800.4 2122.2 800.3C2124.9 800.3 2127.5 800.2 2130.2 800.1C2132.8 800.0 2135.5 799.9 2138.1 799.7C2140.8 799.6 2143.4 799.5 2146.1 799.3C2148.7 799.1 2151.4 799.0 2154.0 798.8C2156.7 798.6 2159.3 798.4 2162.0 798.2C2164.6 798.0 2167.3 797.7 2169.9 797.5C2172.6 797.3 2175.2 797.1 2177.9 796.8C2180.5 796.6 2183.2 796.3 2185.8 796.1C2188.5 795.8 2191.1 795.6 2193.8 795.4C2196.4 795.1 2199.1 794.9 2201.8 794.6C2204.4 794.4 2207.1 794.1 2209.7 793.9C2212.4 793.7 2215.0 793.4 2217.7 793.2C2220.3 793.0 2223.0 792.8 2225.6 792.6C2228.3 792.4 2231.0 792.2 2233.6 792.0C2236.3 791.8 2238.9 791.6 2241.6 791.5C2244.2 791.3 2246.9 791.2 2249.6 791.1C2252.2 791.0 2254.9 790.9 2257.5 790.8C2260.2 790.7 2262.8 790.6 2265.5 790.6C2268.2 790.5 2270.8 790.5 2273.5 790.5C2276.1 790.5 2278.8 790.6 2281.5 790.6C2284.1 790.7 2286.8 790.7 2289.4 790.8C2292.1 790.9 2294.8 791.0 2297.4 791.1C2300.1 791.3 2302.7 791.4 2305.4 791.5C2308.1 791.7 2310.7 791.9 2313.4 792.0C2316.1 792.2 2318.7 792.4 2321.4 792.6C2324.1 792.8 2326.7 793.0 2329.4 793.2C2332.0 793.4 2334.7 793.7 2337.4 793.9C2340.0 794.1 2342.7 794.4 2345.4 794.6C2348.0 794.8 2350.7 795.1 2353.4 795.3C2356.0 795.5 2358.7 795.8 2361.4 796.0C2364.0 796.2 2366.7 796.5 2369.4 796.7C2372.0 796.9 2374.7 797.1 2377.4 797.4C2380.0 797.6 2382.7 797.8 2385.4 798.0C2388.1 798.2 2390.7 798.4 2393.4 798.6C2396.1 798.7 2398.7 798.9 2401.4 799.1C2404.1 799.2 2406.8 799.4 2409.4 799.5C2412.1 799.6 2414.8 799.7 2417.4 799.8C2420.1 799.9 2424.1 800.1 2425.4 800.1"/>
<path stroke="#A5A5A5" d="M312.5 130.8C313.8 132.1 318.2 136.1 320.5 138.3C322.8 140.5 324.5 142.0 326.5 143.9C328.5 145.8 330.5 147.7 332.4 149.6C334.3 151.5 336.2 153.5 338.1 155.4C340.0 157.4 341.8 159.3 343.7 161.3C345.5 163.3 347.3 165.3 349.1 167.3C350.8 169.3 352.6 171.3 354.3 173.4C356.1 175.4 357.8 177.5 359.5 179.6C361.1 181.6 362.8 183.7 364.4 185.8C366.1 187.9 367.7 190.0 369.3 192.2C370.9 194.3 372.5 196.4 374.0 198.6C375.6 200.7 377.1 202.9 378.6 205.1C380.1 207.3 381.6 209.4 383.1 211.7C384.5 213.9 386.0 216.1 387.4 218.3C388.8 220.5 390.2 222.8 391.6 225.0C393.0 227.3 394.4 229.5 395.7 231.8C397.0 234.1 398.4 236.4 399.7 238.7C401.0 241.0 402.3 243.3 403.5 245.6C404.8 247.9 406.0 250.2 407.3 252.6C408.5 254.9 409.7 257.3 410.9 259.6C412.1 262.0 413.3 264.4 414.5 266.7C415.6 269.1 416.8 271.5 417.9 273.9C419.0 276.3 420.1 278.7 421.2 281.1C422.3 283.5 423.4 286.0 424.4 288.4C425.5 290.8 426.5 293.3 427.6 295.7C428.6 298.2 429.6 300.6 430.6 303.1C431.6 305.5 432.6 308.0 433.6 310.5C434.5 313.0 435.5 315.5 436.4 317.9C437.4 320.4 438.3 322.9 439.2 325.4C440.1 327.9 441.0 330.5 441.9 333.0C442.8 335.5 443.7 338.0 444.5 340.5C445.4 343.1 446.2 345.6 447.1 348.1C447.9 350.7 448.8 353.2 449.6 355.8C450.4 358.3 451.2 360.9 452.0 363.4C452.8 366.0 453.6 368.6 454.4 371.1C455.1 373.7 455.9 376.3 456.7 378.8C457.4 381.4 458.2 384.0 458.9 386.6C459.7 389.2 460.4 391.7 461.2 394.3C461.9 396.9 462.6 399.5 463.3 402.1C464.1 404.7 464.8 407.3 465.5 409.9C466.2 412.5 466.9 415.1 467.6 417.7C468.3 420.3 469.0 422.9 469.7 425.5C470.4 428.1 471.1 430.7 471.7 433.3C472.4 435.9 473.1 438.5 473.8 441.2C474.5 443.8 475.1 446.4 475.8 449.0C476.5 451.6 477.2 454.2 477.8 456.8C478.5 459.4 479.2 462.0 479.8 464.7C480.5 467.3 481.2 469.9 481.9 472.5C482.5 475.1 483.2 477.7 483.9 480.3C484.6 482.9 485.2 485.5 485.9 488.1C486.6 490.7 487.3 493.3 487.9 495.9C488.6 498.6 489.3 501.2 490.0 503.7C490.7 506.3 491.4 508.9 492.1 511.5C492.8 514.1 493.5 516.7 494.2 519.3C494.9 521.9 495.6 524.5 496.3 527.1C497.0 529.6 497.8 532.2 498.5 534.8C499.2 537.4 500.0 539.9 500.7 542.5C501.4 545.1 502.2 547.6 503.0 550.2C503.7 552.7 504.5 555.3 505.3 557.8C506.0 560.4 506.8 562.9 507.6 565.5C508.4 568.0 509.2 570.5 510.0 573.1C510.8 575.6 511.6 578.1 512.4 580.7C513.2 583.2 514.0 585.7 514.9 588.2C515.7 590.7 516.5 593.3 517.4 595.8C518.2 598.3 519.1 600.8 519.9 603.3C520.8 605.8 521.7 608.3 522.5 610.8C523.4 613.3 524.3 615.8 525.2 618.3C526.1 620.8 526.9 623.3 527.8 625.8C528.7 628.3 529.6 630.8 530.6 633.3C531.5 635.8 532.4 638.3 533.3 640.7C534.2 643.2 535.2 645.7 536.1 648.2C537.0 650.7 538.0 653.2 538.9 655.6C539.9 658.1 540.8 660.6 541.8 663.1C542.7 665.5 543.7 668.0 544.7 670.5C545.6 673.0 546.6 675.4 547.6 677.9C548.6 680.4 549.6 682.9 550.5 685.3C551.5 687.8 552.5 690.3 553.5 692.8C554.5 695.2 555.5 697.7 556.6 700.2C557.6 702.6 558.6 705.1 559.6 707.6C560.6 710.1 561.7 712.5 562.7 715.0C563.7 717.5 564.8 719.9 565.8 722.4C566.9 724.9 567.9 727.4 569.0 729.8C570.0 732.3 571.1 734.8 572.1 737.3C573.2 739.7 574.3 742.2 575.3 744.7C576.4 747.2 577.5 749.7 578.6 752.1C579.7 754.6 580.7 757.1 581.8 759.6C582.9 762.1 584.0 764.6 585.2 767.0C586.3 769.5 587.4 772.0 588.6 774.4C589.7 776.9 590.9 779.3 592.1 781.8C593.3 784.2 594.5 786.6 595.7 789.0C596.9 791.5 598.2 793.9 599.5 796.2C600.8 798.6 602.1 800.9 603.5 803.3C604.9 805.6 606.3 807.9 607.7 810.2C609.2 812.5 610.7 814.7 612.2 816.9C613.8 819.2 615.3 821.3 617.0 823.5C618.6 825.7 620.3 827.8 622.0 829.9C623.8 831.9 625.6 834.0 627.5 836.0C629.3 838.0 631.2 840.0 633.2 841.8C635.2 843.6 637.2 845.4 639.3 847.0C641.3 848.6 643.5 850.1 645.6 851.4C647.8 852.6 650.0 853.8 652.2 854.6C654.4 855.4 656.7 856.0 659.0 856.3C661.2 856.6 663.6 856.6 665.9 856.3C668.2 856.1 670.6 855.6 672.9 854.9C675.3 854.2 677.7 853.3 680.1 852.3C682.6 851.3 685.0 850.1 687.4 848.9C689.9 847.7 692.4 846.4 694.9 845.1C697.3 843.8 699.9 842.5 702.4 841.2C704.9 840.0 707.4 838.7 710.0 837.6C712.5 836.5 715.1 835.5 717.7 834.6C720.3 833.7 722.9 832.8 725.5 832.1C728.1 831.4 730.7 830.7 733.3 830.1C735.9 829.6 738.6 829.1 741.2 828.7C743.8 828.2 746.5 827.9 749.1 827.6C751.8 827.3 754.5 827.1 757.1 827.0C759.8 826.8 762.5 826.7 765.1 826.7C767.8 826.6 770.5 826.6 773.2 826.7C775.9 826.8 778.5 826.9 781.2 827.0C783.9 827.1 786.6 827.3 789.3 827.5C792.0 827.7 794.6 828.0 797.3 828.2C800.0 828.5 802.7 828.8 805.4 829.1C808.0 829.4 810.7 829.7 813.4 830.1C816.1 830.4 818.7 830.8 821.4 831.1C824.1 831.5 826.7 831.9 829.4 832.3C832.1 832.7 834.7 833.1 837.4 833.5C840.0 833.9 842.7 834.3 845.4 834.7C848.0 835.1 850.7 835.5 853.3 835.9C856.0 836.3 858.6 836.8 861.3 837.2C863.9 837.5 866.6 837.9 869.2 838.3C871.9 838.7 874.5 839.1 877.2 839.4C879.8 839.8 882.5 840.1 885.1 840.5C887.7 840.8 890.4 841.1 893.0 841.4C895.7 841.7 898.3 841.9 900.9 842.2C903.6 842.4 906.2 842.6 908.9 842.8C911.5 843.0 914.1 843.1 916.8 843.2C919.4 843.4 922.0 843.5 924.7 843.5C927.3 843.5 929.9 843.6 932.6 843.5C935.2 843.5 937.8 843.4 940.5 843.3C943.1 843.2 945.7 843.1 948.4 842.8C951.0 842.6 953.6 842.4 956.3 842.1C958.9 841.8 961.5 841.4 964.2 841.0C966.8 840.6 969.4 840.1 972.1 839.6C974.7 839.0 977.3 838.4 980.0 837.8C982.6 837.2 985.2 836.5 987.9 835.8C990.5 835.1 993.1 834.4 995.8 833.7C998.4 833.0 1001.0 832.2 1003.7 831.5C1006.3 830.8 1008.9 830.1 1011.6 829.5C1014.2 828.8 1016.8 828.2 1019.4 827.6C1022.1 827.1 1024.7 826.5 1027.3 826.1C1029.9 825.7 1032.6 825.3 1035.2 825.0C1037.8 824.8 1040.4 824.6 1043.0 824.5C1045.7 824.5 1048.3 824.5 1050.9 824.7C1053.5 824.9 1056.1 825.2 1058.7 825.6C1061.3 826.0 1063.9 826.6 1066.5 827.2C1069.1 827.7 1071.7 828.4 1074.3 829.2C1076.9 829.9 1079.5 830.8 1082.1 831.6C1084.7 832.4 1087.2 833.3 1089.8 834.2C1092.4 835.1 1095.0 836.1 1097.6 837.0C1100.1 837.9 1102.7 838.8 1105.3 839.7C1107.8 840.6 1110.4 841.5 1112.9 842.3C1115.5 843.2 1118.0 844.0 1120.6 844.7C1123.1 845.5 1125.7 846.2 1128.2 846.8C1130.8 847.4 1133.3 848.0 1135.8 848.5C1138.4 848.9 1140.9 849.3 1143.4 849.6C1146.0 849.9 1148.5 850.2 1151.0 850.2C1153.5 850.3 1156.1 850.3 1158.6 850.2C1161.1 850.0 1163.6 849.8 1166.1 849.3C1168.7 848.9 1171.2 848.4 1173.7 847.7C1176.2 846.9 1178.7 846.1 1181.2 845.1C1183.7 844.1 1186.2 843.0 1188.7 841.8C1191.3 840.6 1193.8 839.4 1196.3 838.1C1198.8 836.8 1201.3 835.4 1203.8 834.0C1206.3 832.6 1208.8 831.2 1211.3 829.9C1213.8 828.5 1216.3 827.1 1218.8 825.8C1221.3 824.5 1223.8 823.3 1226.3 822.1C1228.9 821.0 1231.4 819.9 1233.9 818.9C1236.4 818.0 1238.9 817.1 1241.4 816.3C1243.9 815.5 1246.4 814.9 1248.9 814.3C1251.4 813.8 1254.0 813.3 1256.5 813.1C1259.0 812.8 1261.5 812.6 1264.0 812.6C1266.5 812.6 1269.0 812.7 1271.6 813.0C1274.1 813.3 1276.6 813.7 1279.1 814.3C1281.6 814.9 1284.1 815.7 1286.7 816.5C1289.2 817.4 1291.7 818.5 1294.2 819.5C1296.7 820.6 1299.3 821.9 1301.8 823.1C1304.3 824.3 1306.8 825.6 1309.3 826.9C1311.9 828.2 1314.4 829.6 1316.9 830.9C1319.4 832.2 1322.0 833.5 1324.5 834.7C1327.0 835.9 1329.6 837.1 1332.1 838.2C1334.6 839.3 1337.1 840.3 1339.7 841.2C1342.2 842.0 1344.7 842.8 1347.3 843.3C1349.8 843.9 1352.3 844.3 1354.9 844.6C1357.4 844.8 1360.0 844.9 1362.5 844.8C1365.0 844.8 1367.6 844.6 1370.1 844.3C1372.6 844.0 1375.2 843.5 1377.7 843.0C1380.3 842.5 1382.8 841.9 1385.4 841.2C1387.9 840.5 1390.5 839.7 1393.0 838.9C1395.6 838.0 1398.1 837.1 1400.7 836.2C1403.2 835.3 1405.8 834.3 1408.3 833.3C1410.9 832.3 1413.4 831.3 1416.0 830.3C1418.5 829.3 1421.1 828.3 1423.6 827.3C1426.2 826.4 1428.8 825.4 1431.3 824.5C1433.9 823.6 1436.4 822.7 1439.0 821.9C1441.6 821.1 1444.1 820.3 1446.7 819.7C1449.3 819.0 1451.8 818.4 1454.4 818.0C1457.0 817.5 1459.6 817.1 1462.1 816.9C1464.7 816.6 1467.3 816.5 1469.9 816.5C1472.4 816.4 1475.0 816.5 1477.6 816.7C1480.2 816.9 1482.8 817.1 1485.3 817.5C1487.9 817.8 1490.5 818.2 1493.1 818.7C1495.7 819.2 1498.3 819.8 1500.9 820.4C1503.4 821.1 1506.0 821.7 1508.6 822.5C1511.2 823.2 1513.8 824.0 1516.4 824.8C1519.0 825.6 1521.6 826.5 1524.2 827.3C1526.8 828.2 1529.4 829.1 1532.0 830.0C1534.6 830.9 1537.2 831.8 1539.8 832.6C1542.4 833.5 1545.0 834.3 1547.6 835.1C1550.2 835.9 1552.8 836.6 1555.4 837.3C1558.0 837.9 1560.6 838.5 1563.2 839.0C1565.9 839.5 1568.5 839.9 1571.1 840.1C1573.7 840.4 1576.3 840.5 1578.9 840.5C1581.5 840.5 1584.1 840.3 1586.8 840.1C1589.4 839.9 1592.0 839.5 1594.6 839.1C1597.2 838.7 1599.9 838.1 1602.5 837.6C1605.1 837.0 1607.7 836.3 1610.3 835.7C1613.0 835.0 1615.6 834.3 1618.2 833.6C1620.8 832.8 1623.5 832.1 1626.1 831.3C1628.7 830.6 1631.3 829.8 1634.0 829.1C1636.6 828.4 1639.2 827.7 1641.9 827.1C1644.5 826.4 1647.1 825.8 1649.7 825.3C1652.4 824.8 1655.0 824.3 1657.6 823.9C1660.3 823.5 1662.9 823.2 1665.5 822.9C1668.2 822.7 1670.8 822.5 1673.4 822.4C1676.1 822.2 1678.7 822.2 1681.4 822.2C1684.0 822.2 1686.6 822.2 1689.3 822.3C1691.9 822.5 1694.6 822.6 1697.2 822.9C1699.8 823.1 1702.5 823.4 1705.1 823.8C1707.8 824.1 1710.4 824.5 1713.0 825.0C1715.7 825.4 1718.3 825.9 1721.0 826.4C1723.6 826.9 1726.3 827.4 1728.9 827.9C1731.6 828.4 1734.2 829.0 1736.8 829.5C1739.5 830.0 1742.1 830.5 1744.8 831.0C1747.4 831.5 1750.1 832.0 1752.7 832.4C1755.4 832.9 1758.0 833.3 1760.7 833.7C1763.3 834.0 1766.0 834.4 1768.6 834.6C1771.3 834.9 1773.9 835.1 1776.6 835.2C1779.2 835.3 1781.9 835.4 1784.6 835.4C1787.2 835.4 1789.9 835.4 1792.5 835.3C1795.2 835.2 1797.8 835.1 1800.5 834.9C1803.1 834.7 1805.8 834.5 1808.4 834.3C1811.1 834.1 1813.8 833.9 1816.4 833.6C1819.1 833.4 1821.7 833.1 1824.4 832.8C1827.0 832.6 1829.7 832.3 1832.4 832.0C1835.0 831.8 1837.7 831.5 1840.3 831.3C1843.0 831.1 1845.7 830.9 1848.3 830.7C1851.0 830.5 1853.6 830.4 1856.3 830.2C1859.0 830.1 1861.6 830.0 1864.3 830.0C1867.0 829.9 1869.6 829.9 1872.3 829.9C1874.9 829.9 1877.6 829.9 1880.3 829.9C1882.9 829.9 1885.6 830.0 1888.3 830.0C1890.9 830.1 1893.6 830.2 1896.3 830.3C1898.9 830.4 1901.6 830.5 1904.3 830.6C1906.9 830.8 1909.6 830.9 1912.3 831.0C1914.9 831.2 1917.6 831.3 1920.3 831.5C1922.9 831.7 1925.6 831.8 1928.3 832.0C1930.9 832.2 1933.6 832.3 1936.3 832.5C1938.9 832.7 1941.6 832.8 1944.3 833.0C1947.0 833.2 1949.6 833.3 1952.3 833.5C1955.0 833.6 1957.6 833.8 1960.3 833.9C1963.0 834.1 1965.6 834.2 1968.3 834.4C1971.0 834.5 1973.7 834.6 1976.3 834.7C1979.0 834.8 1981.7 834.9 1984.3 835.0C1987.0 835.1 1989.7 835.2 1992.4 835.3C1995.0 835.4 1997.7 835.5 2000.4 835.6C2003.1 835.6 2005.7 835.7 2008.4 835.8C2011.1 835.8 2013.8 835.9 2016.4 835.9C2019.1 836.0 2021.8 836.0 2024.4 836.1C2027.1 836.1 2029.8 836.1 2032.5 836.2C2035.1 836.2 2037.8 836.2 2040.5 836.2C2043.2 836.3 2045.8 836.3 2048.5 836.3C2051.2 836.3 2053.9 836.3 2056.5 836.3C2059.2 836.3 2061.9 836.3 2064.6 836.3C2067.2 836.3 2069.9 836.3 2072.6 836.3C2075.3 836.3 2077.9 836.3 2080.6 836.3C2083.3 836.3 2086.0 836.3 2088.7 836.2C2091.3 836.2 2094.0 836.2 2096.7 836.2C2099.4 836.2 2102.0 836.2 2104.7 836.1C2107.4 836.1 2110.1 836.1 2112.7 836.1C2115.4 836.1 2118.1 836.0 2120.8 836.0C2123.4 836.0 2126.1 836.0 2128.8 835.9C2131.5 835.9 2134.2 835.9 2136.8 835.9C2139.5 835.9 2142.2 835.8 2144.9 835.8C2147.5 835.8 2150.2 835.8 2152.9 835.8C2155.6 835.7 2158.2 835.7 2160.9 835.7C2163.6 835.7 2166.3 835.7 2169.0 835.7C2171.6 835.7 2174.3 835.7 2177.0 835.6C2179.7 835.6 2182.3 835.6 2185.0 835.6C2187.7 835.6 2190.4 835.6 2193.0 835.6C2195.7 835.7 2198.4 835.7 2201.1 835.7C2203.7 835.7 2206.4 835.7 2209.1 835.7C2211.8 835.7 2214.5 835.7 2217.1 835.8C2219.8 835.8 2222.5 835.8 2225.2 835.8C2227.8 835.8 2230.5 835.9 2233.2 835.9C2235.9 835.9 2238.5 835.9 2241.2 835.9C2243.9 836.0 2246.6 836.0 2249.2 836.0C2251.9 836.0 2254.6 836.1 2257.3 836.1C2259.9 836.1 2262.6 836.1 2265.3 836.1C2268.0 836.2 2270.6 836.2 2273.3 836.2C2276.0 836.2 2278.6 836.2 2281.3 836.2C2284.0 836.3 2286.7 836.3 2289.3 836.3C2292.0 836.3 2294.7 836.3 2297.4 836.3C2300.0 836.3 2302.7 836.3 2305.4 836.3C2308.1 836.3 2310.7 836.3 2313.4 836.3C2316.1 836.3 2318.7 836.3 2321.4 836.3C2324.1 836.3 2326.8 836.3 2329.4 836.2C2332.1 836.2 2334.8 836.2 2337.4 836.2C2340.1 836.1 2342.8 836.1 2345.4 836.1C2348.1 836.0 2350.8 836.0 2353.5 836.0C2356.1 835.9 2358.8 835.9 2361.5 835.8C2364.1 835.7 2366.8 835.7 2369.5 835.6C2372.1 835.5 2374.8 835.5 2377.5 835.4C2380.1 835.3 2382.8 835.2 2385.5 835.1C2388.1 835.0 2390.8 834.9 2393.5 834.8C2396.1 834.7 2398.8 834.6 2401.5 834.5C2404.1 834.4 2406.8 834.2 2409.5 834.1C2412.1 834.0 2414.8 833.8 2417.4 833.7C2420.1 833.5 2424.1 833.3 2425.4 833.2"/>
</g>
<g font-size="75.5" font-weight="bold" fill="#404040">
<path d="M1527.9 1053.5H1669.5" fill="none" stroke="#ED7D31" stroke-width="10.0" stroke-linecap="round"/>
<text><tspan x="1732.3" y="1071.8" font-family="'DejaVu Math TeX Gyre', 'DejaVu Serif', serif" font-weight="normal" font-size="67.7">Δ</tspan><tspan x="1780.7" y="1071.8">t</tspan><tspan x="1806.5" y="1087.5" font-size="46.0">d</tspan><tspan> </tspan><tspan x="1845.2" y="1067.4" font-family="'DejaVu Serif', 'DejaVu Sans', serif" font-weight="normal" font-size="66.0">=</tspan><tspan> </tspan><tspan x="1912.8" y="1071.8">0.02</tspan><tspan> </tspan><tspan x="2060.2" y="1073.8" font-size="72.0" font-weight="normal" textLength="41.3" lengthAdjust="spacingAndGlyphs">ζ</tspan><tspan> </tspan><tspan x="2111.2" y="1067.4" font-family="'DejaVu Serif', 'DejaVu Sans', serif" font-weight="normal" font-size="66.0">=</tspan><tspan> </tspan><tspan x="2176.6" y="1071.8">0.5</tspan></text>
<path d="M1527.9 1186.7H1669.5" fill="none" stroke="#4472C4" stroke-width="10.0" stroke-linecap="round"/>
<text><tspan x="1734.8" y="1200.0" font-family="'DejaVu Math TeX Gyre', 'DejaVu Serif', serif" font-weight="normal" font-size="67.7">Δ</tspan><tspan x="1783.2" y="1200.0">t</tspan><tspan x="1809.0" y="1215.7" font-size="46.0">d</tspan><tspan> </tspan><tspan x="1847.7" y="1195.6" font-family="'DejaVu Serif', 'DejaVu Sans', serif" font-weight="normal" font-size="66.0">=</tspan><tspan> </tspan><tspan x="1915.3" y="1200.0">0.02</tspan><tspan> </tspan><tspan x="2062.7" y="1202.0" font-size="72.0" font-weight="normal" textLength="41.3" lengthAdjust="spacingAndGlyphs">ζ</tspan><tspan> </tspan><tspan x="2113.7" y="1195.6" font-family="'DejaVu Serif', 'DejaVu Sans', serif" font-weight="normal" font-size="66.0">=</tspan><tspan> </tspan><tspan x="2179.1" y="1200.0">0.1</tspan></text>
<path d="M1527.9 1320.0H1669.5" fill="none" stroke="#70AD47" stroke-width="10.0" stroke-linecap="round"/>
<text><tspan x="1732.3" y="1336.4" font-family="'DejaVu Math TeX Gyre', 'DejaVu Serif', serif" font-weight="normal" font-size="67.7">Δ</tspan><tspan x="1780.7" y="1336.4">t</tspan><tspan x="1806.5" y="1352.1" font-size="46.0">d</tspan><tspan> </tspan><tspan x="1845.2" y="1332.0" font-family="'DejaVu Serif', 'DejaVu Sans', serif" font-weight="normal" font-size="66.0">=</tspan><tspan> </tspan><tspan x="1912.8" y="1336.4">0.02</tspan><tspan> </tspan><tspan x="2060.2" y="1338.4" font-size="72.0" font-weight="normal" textLength="41.3" lengthAdjust="spacingAndGlyphs">ζ</tspan><tspan> </tspan><tspan x="2111.2" y="1332.0" font-family="'DejaVu Serif', 'DejaVu Sans', serif" font-weight="normal" font-size="66.0">=</tspan><tspan> </tspan><tspan x="2176.6" y="1336.4">0.04</tspan></text>
<path d="M1522.9 1454.0H1672.0" fill="none" stroke="#A5A5A5" stroke-width="10.0" stroke-linecap="butt"/>
<text><tspan x="1722.1" y="1483.0" font-family="'DejaVu Math TeX Gyre', 'DejaVu Serif', serif" font-weight="normal" font-size="67.7">Δ</tspan><tspan x="1770.5" y="1483.0">t</tspan><tspan x="1796.3" y="1498.7" font-size="46.0">d</tspan><tspan> </tspan><tspan x="1835.0" y="1478.6" font-family="'DejaVu Serif', 'DejaVu Sans', serif" font-weight="normal" font-size="66.0">=</tspan><tspan> </tspan><tspan x="1902.6" y="1483.0">0.02</tspan><tspan> </tspan><tspan x="2050.0" y="1485.0" font-size="72.0" font-weight="normal" textLength="41.3" lengthAdjust="spacingAndGlyphs">ζ</tspan><tspan> </tspan><tspan x="2101.0" y="1478.6" font-family="'DejaVu Serif', 'DejaVu Sans', serif" font-weight="normal" font-size="66.0">=</tspan><tspan> </tspan><tspan x="2166.4" y="1483.0">0.01</tspan></text>
</g>
</svg>
</body></html>
